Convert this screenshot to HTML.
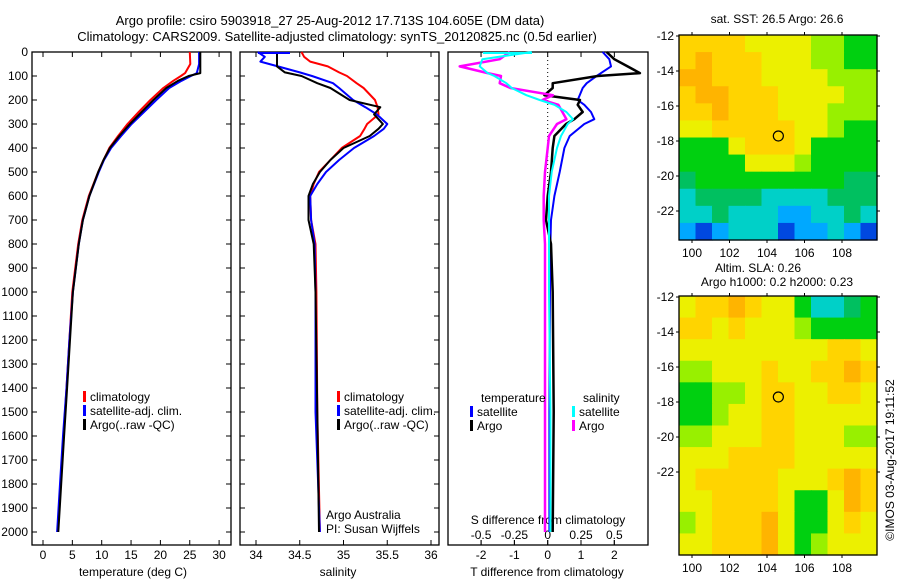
<!DOCTYPE html>
<html><head><meta charset="utf-8">
<style>
html,body{margin:0;padding:0;background:#fff;}
svg{display:block;font-family:"Liberation Sans",sans-serif;}
text{fill:#000;font-size:12px;}
</style></head>
<body>
<svg id="fig" width="900" height="580" viewBox="0 0 900 580" xmlns="http://www.w3.org/2000/svg">
<text x="330" y="25" text-anchor="middle" style="font-size:13px">Argo profile: csiro 5903918_27 25-Aug-2012 17.713S 104.605E (DM data)</text>
<text x="337" y="41" text-anchor="middle" style="font-size:13px">Climatology: CARS2009. Satellite-adjusted climatology: synTS_20120825.nc (0.5d earlier)</text>
<text x="777" y="23" text-anchor="middle">sat. SST: 26.5 Argo: 26.6</text>
<text x="758" y="272" text-anchor="middle">Altim. SLA: 0.26</text>
<text x="777" y="286" text-anchor="middle">Argo h1000: 0.2 h2000: 0.23</text>
<text transform="translate(894,460) rotate(-90)" text-anchor="middle">©IMOS 03-Aug-2017 19:11:52</text>
<g id="layer"></g>
</svg>
<script>
// ---- data ----
const depthTicks = [0,100,200,300,400,500,600,700,800,900,1000,1100,1200,1300,1400,1500,1600,1700,1800,1900,2000];
const tempTicks = [0,5,10,15,20,25,30];
const salTicks = [34,34.5,35,35.5,36];
const tdiffTicks = [-2,-1,0,1,2];
const sdiffTicks = [-0.5,-0.25,0,0.25,0.5];
const sdiffTickLabels = ["-0.5","-0.25","0","0.25","0.5"];

const depthT = [0,50,88,100,120,150,200,250,300,350,400,450,500,600,700,800,1000,1200,1400,1600,1800,2000];
const tClim = [25.0,25.1,24.2,23.5,22.2,20.5,18.3,16.3,14.4,12.8,11.3,10.3,9.4,7.8,6.7,6.0,5.0,4.5,4.0,3.5,3.0,2.5];
const tSat  = [26.6,26.6,26.2,25.2,23.6,21.5,19.3,17.2,15.1,13.3,11.6,10.4,9.5,7.9,6.8,6.1,5.1,4.5,4.0,3.4,2.9,2.4];
const tArgo = [26.8,26.8,26.8,24.8,23.0,21.0,18.8,16.8,14.8,13.0,11.4,10.3,9.4,7.9,6.8,6.1,5.1,4.6,4.1,3.6,3.1,2.6];

const depthS = [0,20,40,60,85,100,130,150,200,230,260,300,320,350,400,450,500,550,600,700,800,1000,1500,2000];
const sClim = [34.52,34.55,34.62,34.82,34.95,35.04,35.15,35.23,35.36,35.39,35.40,35.27,35.24,35.19,34.98,34.85,34.72,34.66,34.62,34.63,34.68,34.69,34.70,34.73];
const sSat  = [34.02,34.10,34.05,34.25,34.50,34.64,34.88,34.95,35.11,35.25,35.38,35.50,35.46,35.35,35.12,34.95,34.80,34.70,34.62,34.63,34.67,34.68,34.68,34.73];
const sArgo = [34.24,34.24,34.24,34.24,34.33,34.52,34.70,34.85,35.07,35.42,35.35,35.45,35.40,35.30,35.00,34.85,34.73,34.65,34.60,34.60,34.66,34.68,34.70,34.72];

const depthD = [0,30,60,88,100,130,150,180,200,220,250,280,300,350,400,500,600,700,800,1000,1500,2000];
const dTSat  = [1.65,1.85,1.90,1.60,1.47,1.17,1.05,0.96,0.90,1.10,1.30,1.40,1.10,0.66,0.50,0.36,0.20,0.10,0.08,0.07,0.05,0.05];
const dTArgo = [1.77,2.00,2.40,2.77,1.50,0.15,0.15,-0.10,0.97,0.90,1.05,0.80,0.55,0.20,0.15,0.10,0.00,-0.05,0.10,0.15,0.18,0.15];
const dSSat  = [-0.12,-0.49,-0.51,-0.45,-0.40,-0.31,-0.27,-0.16,-0.06,0.05,0.14,0.19,0.15,0.10,0.07,0.03,0.01,0.01,0.01,0.01,0.02,0.02];
const dSArgo = [-0.285,-0.36,-0.66,-0.45,-0.35,-0.36,-0.28,0.04,-0.04,0.08,0.11,0.14,0.07,0.01,0.0,-0.02,-0.03,-0.03,-0.02,-0.02,-0.02,-0.02];

const latTicks = [-12,-14,-16,-18,-20,-22];
const lonTicks = [100,102,104,106,108];
const argoLon = 104.605, argoLat = -17.713;
const palette = ["#0048e0","#00a8ff","#00d0c8","#00c060","#00d010","#98f000","#ecf000","#ffd400","#ffb400"];
const sstGrid = [
"777766665544","787776665544","887776666555","788777666655","778777666555","667777766544",
"444677764444","444466654444","344444444433","233332222333","223222112232","101222011210"];
const slaGrid = [
"677876642234","776766654444","666666666776","556667667787","445567766776","445667766666",
"556667766655","666777766666","677777666787","667777644687","567778644676","667778645666"];

// ---- helpers ----
const NS="http://www.w3.org/2000/svg";
const layer=document.getElementById('layer');
function mk(tag,attrs,parent){const e=document.createElementNS(NS,tag);for(const k in attrs)e.setAttribute(k,attrs[k]);(parent||layer).appendChild(e);return e;}
const Y0=52, PY=0.24; // px per metre
const yD = d => Y0 + d*PY;
const xT = t => 43 + t*5.87;
const xS = s => 256 + (s-34)*87.5;
const xDT = t => 547.7 + t*33.3;
const xDS = s => 547.7 + s*133.3;
const BOT=545;

function frame(x0,x1,name){
  const r=mk('rect',{x:x0,y:Y0,width:x1-x0,height:BOT-Y0,fill:'none',stroke:'#000','stroke-width':1.3});
  
  
  depthTicks.forEach(d=>{
    mk('line',{x1:x0,x2:x0+5,y1:yD(d),y2:yD(d),stroke:'#000'});
    mk('line',{x1:x1-5,x2:x1,y1:yD(d),y2:yD(d),stroke:'#000'});
  });
}
function xticks(vals,labels,fx,name,top,ly){
  vals.forEach((v,i)=>{
    const x=fx(v);
    mk('line',{x1:x,x2:x,y1:BOT-5,y2:BOT,stroke:'#000'});
    if(top) mk('line',{x1:x,x2:x,y1:Y0,y2:Y0+5,stroke:'#000'});
    const t=mk('text',{x:x,y:ly||559,'text-anchor':'middle'});
    t.textContent=labels[i];
    
    
  });
}
function line(xs,ds,fx,color,name,w){
  const pts=xs.map((v,i)=>fx(v).toFixed(1)+','+yD(ds[i]).toFixed(1)).join(' ');
  const p=mk('polyline',{points:pts,fill:'none',stroke:color,'stroke-width':w||2,'stroke-linejoin':'round'});
  
  
}
function label(x,y,txt,name,anchor){
  const t=mk('text',{x:x,y:y,'text-anchor':anchor||'start'});
  t.textContent=txt;
  
  
  return t;
}
function legend(x,y,color,txt,name){
  const m=mk('rect',{x:x,y:y-10,width:3,height:11,fill:color});
  
  
  label(x+7,y,txt,name);
}

// depth labels
depthTicks.forEach(d=>{
  const t=mk('text',{x:28,y:yD(d)+4,'text-anchor':'end'});
  t.textContent=d;
  
  
});

// Panel 1 temperature
frame(32,231,'temperature-panel');
xticks(tempTicks,tempTicks.map(String),xT,'temperature-tick-label',true);
label(133,576,'temperature (deg C)','temperature-axis-title','middle');
line(tClim,depthT,xT,'#ff0000','temperature-climatology-line');
line(tSat,depthT,xT,'#0000ff','temperature-satellite-line');
line(tArgo,depthT,xT,'#000000','temperature-argo-line');
legend(83,401,'#ff0000','climatology','legend-climatology');
legend(83,415,'#0000ff','satellite-adj. clim.','legend-satellite');
legend(83,429,'#000000','Argo(..raw -QC)','legend-argo');

// Panel 2 salinity
frame(240,439,'salinity-panel');
xticks(salTicks,["34","34.5","35","35.5","36"],xS,'salinity-tick-label',true);
label(338,576,'salinity','salinity-axis-title','middle');
line(sClim,depthS,xS,'#ff0000','salinity-climatology-line');
line(sSat,depthS,xS,'#0000ff','salinity-satellite-line');
line(sArgo,depthS,xS,'#000000','salinity-argo-line');
mk('line',{x1:258,x2:290,y1:Y0+1,y2:Y0+1,stroke:'#0000ff','stroke-width':2});
legend(337,401,'#ff0000','climatology','legend-climatology');
legend(337,415,'#0000ff','satellite-adj. clim.','legend-satellite');
legend(337,429,'#000000','Argo(..raw -QC)','legend-argo');
label(326,519,'Argo Australia','credit-argo-australia');
label(326,533,'PI: Susan Wijffels','credit-pi');

// Panel 3 differences
const r3=mk('rect',{x:448,y:Y0,width:200,height:BOT-Y0,fill:'none',stroke:'#000','stroke-width':1.3});


mk('line',{x1:xDT(0),x2:xDT(0),y1:Y0,y2:210,stroke:'#000','stroke-dasharray':'1,3'});
tdiffTicks.forEach(v=>{mk('line',{x1:xDT(v),x2:xDT(v),y1:BOT-5,y2:BOT,stroke:'#000'});});
xticks(tdiffTicks,["-2","-1","0","1","2"],xDT,'tdiff-tick-label',false,559);
sdiffTicks.forEach(v=>{mk('line',{x1:xDS(v),x2:xDS(v),y1:Y0,y2:Y0+5,stroke:'#000'});});
sdiffTicks.forEach((v,i)=>{
  const t=mk('text',{x:xDS(v),y:539,'text-anchor':'middle'});
  t.textContent=sdiffTickLabels[i];
  
  
});
label(548,524,'S difference from climatology','sdiff-axis-title','middle');
label(547,576,'T difference from climatology','tdiff-axis-title','middle');
line(dTSat,depthD,xDT,'#0000ff','tdiff-satellite-line');
line(dTArgo,depthD,xDT,'#000000','tdiff-argo-line',2.5);
line(dSArgo,depthD,xDS,'#ff00ff','sdiff-argo-line',2.5);
line(dSSat,depthD,xDS,'#00ffff','sdiff-satellite-line');
mk('line',{x1:483,x2:532,y1:Y0+1,y2:Y0+1,stroke:'#00ffff','stroke-width':2});
label(481,402,'temperature','legend-temperature-header');
legend(470,416,'#0000ff','satellite','legend-tdiff-satellite');
legend(470,430,'#000000','Argo','legend-tdiff-argo');
label(583,402,'salinity','legend-salinity-header');
legend(572,416,'#00ffff','satellite','legend-sdiff-satellite');
legend(572,430,'#ff00ff','Argo','legend-sdiff-argo');

// Maps
function map(grid,x0,y0,x1,y1,latTop,latPx,name){
  const g=mk('g',{});
  
  
  const rows=grid.length, cols=grid[0].length;
  const cw=(x1-x0)/cols, ch=(y1-y0)/rows;
  for(let r=0;r<rows;r++)for(let c=0;c<cols;c++){
    const cell=mk('rect',{x:(x0+c*cw).toFixed(2),y:(y0+r*ch).toFixed(2),width:(cw+0.6).toFixed(2),height:(ch+0.6).toFixed(2),fill:palette[+grid[r][c]]},g);
    
    
  }
  const fx=lon=>692+(lon-100)*18.75;
  const fy=lat=>latTop+(-12-lat)*latPx;
  const b=mk('rect',{x:x0,y:y0,width:x1-x0,height:y1-y0,fill:'none',stroke:'#000','stroke-width':1.3},g);
  
  
  latTicks.forEach(l=>{
    const y=fy(l);
    mk('line',{x1:x0-3,x2:x0,y1:y,y2:y,stroke:'#000'},g);
    mk('line',{x1:x1,x2:x1+3,y1:y,y2:y,stroke:'#000'},g);
    const t=mk('text',{x:674,y:y+4,'text-anchor':'end'},g);
    t.textContent=l;
    
    
  });
  lonTicks.forEach(l=>{
    const x=fx(l);
    mk('line',{x1:x,x2:x,y1:y1,y2:y1+3,stroke:'#000'},g);
    mk('line',{x1:x,x2:x,y1:y0-3,y2:y0,stroke:'#000'},g);
    const t=mk('text',{x:x,y:y1+17,'text-anchor':'middle'},g);
    t.textContent=l;
    
    
  });
  const c=mk('circle',{cx:fx(argoLon),cy:fy(argoLat),r:5,fill:'none',stroke:'#000','stroke-width':1.2},g);
  
  
}
map(sstGrid,679,35,877,240,36,17.5,'sst-map');
map(slaGrid,679,296,877,555,297,17.5,'sla-map');
</script>
</body></html>
